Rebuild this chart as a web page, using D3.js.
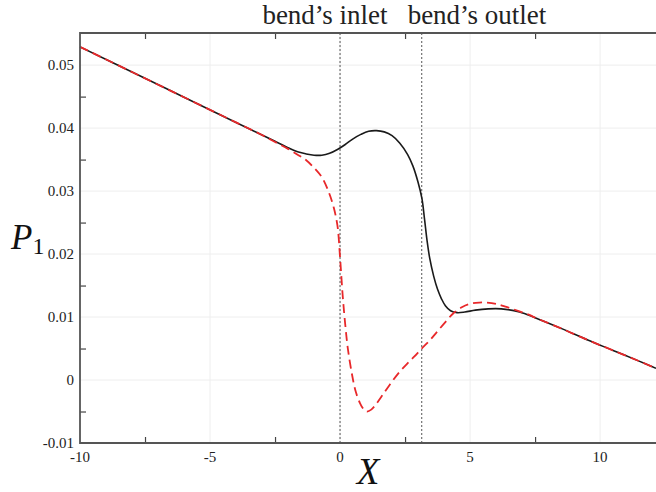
<!DOCTYPE html>
<html><head><meta charset="utf-8">
<script src="https://cdn.jsdelivr.net/npm/d3@7"></script>
<style>body{margin:0;background:#fff}svg{display:block}</style>
</head><body><svg id="c" width="656" height="492"></svg>
<script>
// ---- data ----
const solidX = [-10,-8,-6,-4,-3,-2.5,-2,-1.6,-1.3,-1,-0.7,-0.4,-0.1,0.2,0.5,0.8,1.1,1.4,1.7,2.0,2.3,2.6,2.8,3.0,3.15,3.25,3.35,3.45,3.6,3.75,3.9,4.05,4.25,4.5,4.8,5.2,5.7,6.2,6.9,7.5,8.5,9.5,10.5,11.5,12.15];
const solidY = [0.0529,0.0489,0.0449,0.0409,0.0389,0.0379,0.0369,0.0362,0.0359,0.0357,0.0357,0.0360,0.0366,0.0374,0.0383,0.0390,0.0395,0.0396,0.0394,0.0388,0.0376,0.0358,0.0340,0.0314,0.0288,0.0255,0.0220,0.0193,0.0165,0.0144,0.0129,0.0118,0.0110,0.0107,0.0108,0.0111,0.0113,0.0113,0.0108,0.0099,0.0082,0.0064,0.0047,0.0030,0.00185];
const dashX = [-10,-8,-6,-4,-3,-2.5,-2,-1.6,-1.3,-1.0,-0.7,-0.45,-0.25,-0.1,0,0.1,0.2,0.3,0.45,0.6,0.77,0.9,1.03,1.2,1.41,1.65,1.92,2.25,2.56,2.85,3.14,3.45,3.72,4.05,4.36,4.7,5.0,5.35,5.64,6.0,6.4,6.9,7.3,7.5,8.5,9.5,10.5,11.5,12.15];
const dashY = [0.0529,0.0489,0.0449,0.0409,0.0389,0.0378,0.0367,0.0357,0.0349,0.0337,0.0322,0.0300,0.0275,0.0245,0.0195,0.0135,0.0088,0.0050,0.0011,-0.0018,-0.0037,-0.0046,-0.0050,-0.0047,-0.0037,-0.0023,-0.0007,0.0011,0.0025,0.0037,0.0050,0.0063,0.0076,0.0092,0.0106,0.0116,0.0121,0.0123,0.0123,0.0121,0.0116,0.0109,0.0103,0.0099,0.0082,0.0064,0.0047,0.0030,0.00185];
const xTickValues = [-10,-5,0,5,10];
const xTickLabels = ["-10","-5","0","5","10"];
const xMinorTicks = [-7.5,-2.5,2.5,7.5];
const yTickValues = [-0.01,0,0.01,0.02,0.03,0.04,0.05];
const yTickLabels = ["-0.01","0","0.01","0.02","0.03","0.04","0.05"];
const yMinorTicks = [-0.005,0.005,0.015,0.025,0.035,0.045];
const markerX = [0, Math.PI];
const markerLabels = ["bend’s inlet","bend’s outlet"];

// ---- layout ----
const svg = d3.select("#c");
const L = 80, R = 656, T = 33, B = 443;
const x = d3.scaleLinear().domain([-10, 12.15]).range([L, R]);
const y = d3.scaleLinear().domain([-0.01, 0.0551]).range([B, T]);
const serif = "'Liberation Serif', 'Times New Roman', serif";

// grid
svg.append("g").selectAll("line").data(xTickValues.slice(1)).join("line")
  .attr("x1", d => x(d)).attr("x2", d => x(d)).attr("y1", T).attr("y2", B)
  .attr("stroke", "#eeeeee").attr("stroke-width", 1);
svg.append("g").selectAll("line").data(yTickValues.slice(1)).join("line")
  .attr("x1", L).attr("x2", R).attr("y1", d => y(d)).attr("y2", d => y(d))
  .attr("stroke", "#eeeeee").attr("stroke-width", 1);

// axes (minor ticks inward, labels at major values)
const xb = svg.append("g").attr("transform", `translate(0,${B})`)
  .call(d3.axisTop(x).tickValues(xMinorTicks).tickSize(6).tickFormat(""));
const xt = svg.append("g").attr("transform", `translate(0,${T})`)
  .call(d3.axisBottom(x).tickValues(xMinorTicks).tickSize(6).tickFormat(""));
const yl = svg.append("g").attr("transform", `translate(${L},0)`)
  .call(d3.axisRight(y).tickValues(yMinorTicks).tickSize(6).tickFormat(""));
[xb, xt, yl].forEach(g => {
  g.select(".domain").remove();
  g.selectAll(".tick line").attr("stroke", "#444").attr("stroke-width", 1.2);
});

// tick labels
svg.append("g").selectAll("text").data(xTickValues).join("text")
  .attr("x", d => x(d)).attr("y", B + 19).attr("text-anchor", "middle")
  .attr("font-family", serif).attr("font-size", 15).attr("fill", "#222")
  .text((d, i) => xTickLabels[i]);
svg.append("g").selectAll("text").data(yTickValues).join("text")
  .attr("x", L - 6).attr("y", d => y(d)).attr("dy", "0.35em").attr("text-anchor", "end")
  .attr("font-family", serif).attr("font-size", 15).attr("fill", "#222")
  .text((d, i) => yTickLabels[i]);

// marker lines
svg.append("g").selectAll("line").data(markerX).join("line")
  .attr("x1", d => x(d)).attr("x2", d => x(d)).attr("y1", T).attr("y2", B)
  .attr("stroke", "#555").attr("stroke-width", 1).attr("stroke-dasharray", "2,2");

// curves
const line = d3.line().x(d => x(d[0])).y(d => y(d[1])).curve(d3.curveCatmullRom.alpha(0.5));
svg.append("path").datum(solidX.map((v, i) => [v, solidY[i]]))
  .attr("d", line).attr("fill", "none").attr("stroke", "#1a1a1a").attr("stroke-width", 1.6);
svg.append("path").datum(dashX.map((v, i) => [v, dashY[i]]))
  .attr("d", line).attr("fill", "none").attr("stroke", "#e8282a").attr("stroke-width", 1.8)
  .attr("stroke-dasharray", "9,5");

// frame
svg.append("path").attr("d", `M${R + 2},${T}H${L}V${B}H${R + 2}`)
  .attr("fill", "none").attr("stroke", "#555").attr("stroke-width", 1.8);

// labels
svg.append("text").attr("x", 325).attr("y", 24).attr("text-anchor", "middle")
  .attr("font-family", serif).attr("font-size", 27).attr("fill", "#222").text(markerLabels[0]);
svg.append("text").attr("x", 477).attr("y", 24).attr("text-anchor", "middle")
  .attr("font-family", serif).attr("font-size", 27).attr("fill", "#222").text(markerLabels[1]);

const p = svg.append("text").attr("x", 11).attr("y", 249)
  .attr("font-family", serif).attr("font-size", 35).attr("fill", "#111");
p.append("tspan").attr("font-style", "italic").text("P");
p.append("tspan").attr("font-size", 24).attr("dy", 5).attr("dx", 0).text("1");

svg.append("text").attr("x", 368).attr("y", 484).attr("text-anchor", "middle")
  .attr("font-family", serif).attr("font-style", "italic").attr("font-size", 37).attr("fill", "#111").text("X");
</script>
</body></html>
